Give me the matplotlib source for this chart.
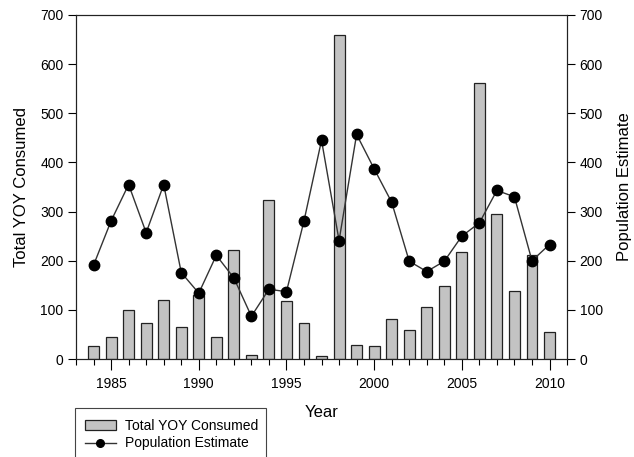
import matplotlib
matplotlib.use("Agg")
import matplotlib.pyplot as plt
from matplotlib.ticker import MultipleLocator
from matplotlib.lines import Line2D
from matplotlib.patches import Rectangle

plt.rcParams['font.family'] = ['Liberation Sans', 'DejaVu Sans']

years = list(range(1984, 2011))
consumed = [26, 45, 99, 74, 121, 65, 130, 44, 222, 8, 323, 118, 74, 6, 659,
            28, 26, 81, 60, 106, 148, 218, 562, 296, 139, 211, 55]
population = [191, 281, 355, 257, 355, 176, 134, 211, 165, 87, 142, 137, 281,
              445, 241, 457, 387, 319, 199, 178, 199, 250, 277, 343, 330, 200, 233]

W, H = 634, 457
fig = plt.figure(figsize=(W / 100, H / 100), dpi=100)
ax = fig.add_axes([0.1199, 0.2144, 0.7745, 0.7528])
ax2 = ax.twinx()

bars = ax.bar(years, consumed, width=0.62, color='#c3c3c3', edgecolor='#222222',
              linewidth=0.9, label='Total YOY Consumed', zorder=2)
line, = ax2.plot(years, population, color='#333333', linewidth=1.0, marker='o',
                 markersize=7.5, markerfacecolor='black', markeredgecolor='black',
                 label='Population Estimate', zorder=3)

for a in (ax, ax2):
    a.set_ylim(0, 700)
    a.yaxis.set_major_locator(MultipleLocator(100))
    a.tick_params(axis='y', direction='out', length=6, width=0.8, labelsize=10, pad=3)
ax.set_xlim(1983, 2011)
ax.xaxis.set_major_locator(MultipleLocator(5))
ax.xaxis.set_minor_locator(MultipleLocator(1))
ax.tick_params(axis='x', which='major', direction='out', length=8, width=0.8, labelsize=10, pad=5)
ax.tick_params(axis='x', which='minor', direction='out', length=4, width=0.8)
for a in (ax, ax2):
    for s in a.spines.values():
        s.set_linewidth(0.8)
        s.set_color('#222222')

ax.set_ylabel('Total YOY Consumed', fontsize=12, labelpad=8)
ax2.set_ylabel('Population Estimate', fontsize=12, labelpad=10)
ax.set_xlabel('Year', fontsize=12, labelpad=10)

# legend frame (extends past the bottom edge of the figure, as in the reference)
frame = Rectangle((75 / W, -0.05), (266 - 75) / W, (1 - 408 / H) + 0.05,
                  transform=fig.transFigure, facecolor='white', edgecolor='#444444',
                  linewidth=0.8, zorder=1)
fig.patches.append(frame)

line_handle = Line2D([], [], color='#333333', linewidth=1.0, marker='o',
                     markersize=5.5, markerfacecolor='black', markeredgecolor='black')
leg = fig.legend([bars, line_handle], ['Total YOY Consumed', 'Population Estimate'],
                 loc='upper left', bbox_to_anchor=(85 / W, 1 - 419 / H),
                 borderaxespad=0.0, borderpad=0.0,
                 frameon=False, fontsize=10,
                 handlelength=2.2, handletextpad=0.65, labelspacing=0.25)
leg.set_zorder(5)

fig.savefig('out.png', dpi=100)
